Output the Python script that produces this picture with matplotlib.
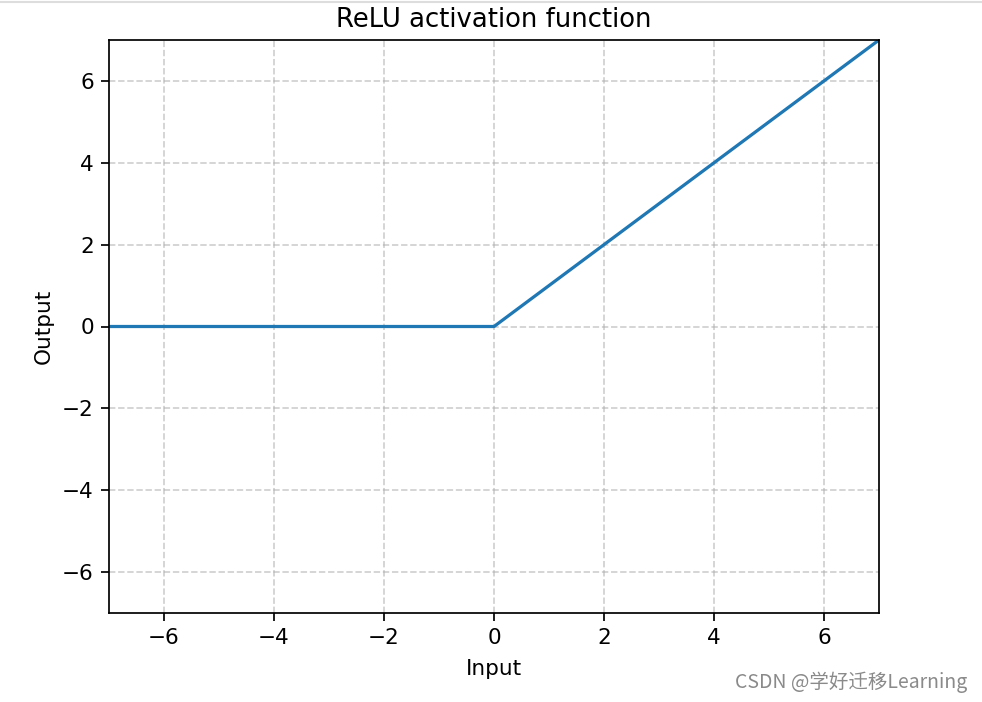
import numpy as np
import matplotlib
matplotlib.use("Agg")
from matplotlib import pyplot as plt
from matplotlib.lines import Line2D

# ReLU curve sampled at its corners
x_in = [-7, 0, 7]
y_out = [0, 0, 7]
ticks = [-6, -4, -2, 0, 2, 4, 6]

S = 1.55  # screenshot scale vs default matplotlib

plt.rcParams['font.size'] = 10*S
plt.rcParams['axes.linewidth'] = 0.8*S
plt.rcParams['xtick.major.size'] = 3.5*S
plt.rcParams['ytick.major.size'] = 3.5*S
plt.rcParams['xtick.major.width'] = 0.8*S
plt.rcParams['ytick.major.width'] = 0.8*S
plt.rcParams['xtick.major.pad'] = 3.5*S
plt.rcParams['ytick.major.pad'] = 3.5*S

fig = plt.figure(figsize=(9.82, 7.02), dpi=100)
ax = fig.add_axes([109/982, 89/702, 770/982, 573/702])

ax.plot(x_in, y_out, color='#1f77b4', lw=1.5*S)
ax.set_xlim(-7, 7)
ax.set_ylim(-7, 7)
ax.set_xticks(ticks)
ax.set_yticks(ticks)
ax.grid(True, linestyle='--', alpha=0.6, lw=0.8*S)
ax.set_title('ReLU activation function', fontsize=12*S, pad=6*S)
ax.set_xlabel('Input', labelpad=5*S)
ax.set_ylabel('Output', labelpad=4*S)

# screenshot border line at top
fig.add_artist(Line2D([0, 1], [1 - 1.5/702, 1 - 1.5/702], color='#dddddd', lw=1.5))

fig.text(967/982, 1 - 682/702, 'CSDN @学好迁移Learning', ha='right', va='center',
         fontsize=14, color='#8a8a8a', family=['Noto Sans CJK SC', 'DejaVu Sans'])

fig.savefig('out.png', dpi=100)
